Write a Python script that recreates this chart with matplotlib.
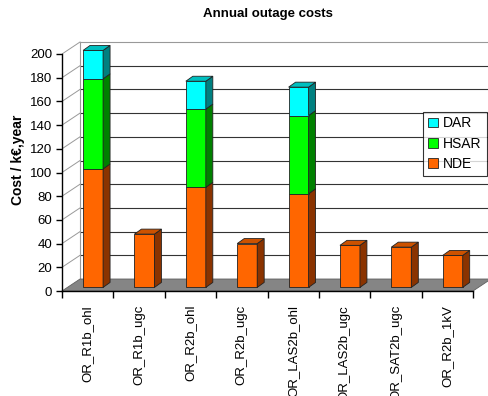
import matplotlib
matplotlib.use("Agg")
import matplotlib.pyplot as plt
from matplotlib.patches import Polygon, Patch
import numpy as np

plt.rcParams['font.family'] = ['Liberation Sans', 'DejaVu Sans']

categories = ["OR_R1b_ohl", "OR_R1b_ugc", "OR_R2b_ohl", "OR_R2b_ugc",
              "OR_LAS2b_ohl", "OR_LAS2b_ugc", "OR_SAT2b_ugc", "OR_R2b_1kV"]
nde = [100, 45, 84.5, 37, 79, 35.5, 34, 27]
hsar = [76, 0, 66, 0, 66, 0, 0, 0]
dar = [24, 0, 23.5, 0, 24, 0, 0, 0]
series_names = ["NDE", "HSAR", "DAR"]
yticks = list(range(0, 201, 20))

front_cols = {"NDE": "#FF6600", "HSAR": "#00FF00", "DAR": "#00FFFF"}
side_cols = {"NDE": "#8A3300", "HSAR": "#008000", "DAR": "#008080"}
top_cols = {"NDE": "#CC5200", "HSAR": "#00CC00", "DAR": "#00BFBF"}

W, H = 488, 396
fig = plt.figure(figsize=(W / 100, H / 100), dpi=100)
px_x = 51.375   # px per category
px_y = 1.185    # px per value unit
x0px, y0px = 62, 291
xmax, ymax = 8.6, 215
ax = fig.add_axes([x0px / W, (H - y0px) / H, xmax * px_x / W, ymax * px_y / H])
ax.set_xlim(0, xmax)
ax.set_ylim(0, ymax)
for s in ["top", "right"]:
    ax.spines[s].set_visible(False)
ax.spines["left"].set_bounds(0, 200)
ax.spines["bottom"].set_bounds(0, 8)
ax.spines["left"].set_linewidth(1.0)
ax.spines["bottom"].set_linewidth(1.0)

n = len(categories)
dx, dy = 0.35, 10.1          # depth of the 3D box
f0 = 0.3                     # bar front depth fraction
bw = 0.389                   # bar width
bdx, bdy = 0.136, 4.2        # bar depth

# floor
ax.add_patch(Polygon([(0, 0), (n, 0), (n + dx, dy), (dx, dy)], closed=True,
                     facecolor="#858585", edgecolor="#606060", lw=0.6, zorder=1,
                     clip_on=False))
# back wall gridlines and side wall lines
for v in yticks:
    col = "#333333" if 0 < v < 200 else "#999999"
    ax.plot([dx, n + dx + 0.3], [v + dy, v + dy], color=col, lw=0.8, zorder=0.5,
            clip_on=False)
    if v > 0:
        ax.plot([0, dx], [v, v + dy], color="#999999", lw=0.7, zorder=0.5)
ax.plot([dx, dx], [dy, 200 + dy], color="#999999", lw=0.8, zorder=0.5)

# bars
stack = {"NDE": nde, "HSAR": hsar, "DAR": dar}
yoff = f0 * dy
for i in range(n):
    xl = i + 0.5 - bw / 2 + f0 * dx
    xr = xl + bw
    base = 0.0
    segs = [(nm, stack[nm][i]) for nm in series_names if stack[nm][i] > 0]
    for k, (nm, val) in enumerate(segs):
        b = base + yoff
        t = base + val + yoff
        ax.add_patch(Polygon([(xl, b), (xr, b), (xr, t), (xl, t)], closed=True,
                             facecolor=front_cols[nm], edgecolor="#222222", lw=0.6, zorder=3))
        ax.add_patch(Polygon([(xr, b), (xr + bdx, b + bdy), (xr + bdx, t + bdy), (xr, t)],
                             closed=True, facecolor=side_cols[nm], edgecolor="#222222",
                             lw=0.6, zorder=3))
        if k == len(segs) - 1:
            ax.add_patch(Polygon([(xl, t), (xr, t), (xr + bdx, t + bdy), (xl + bdx, t + bdy)],
                                 closed=True, facecolor=top_cols[nm], edgecolor="#222222",
                                 lw=0.6, zorder=3))
        base += val

# axes ticks
ax.set_yticks(yticks)
ax.set_yticklabels([str(v) for v in yticks], fontsize=9.5)
ax.tick_params(axis="y", direction="out", length=4, width=1, pad=3)
ax.set_xticks(range(0, n + 1))
ax.set_xticklabels([""] * (n + 1))
ax.set_xticks(np.arange(n) + 0.5, minor=True)
ax.set_xticklabels(categories, minor=True, rotation=90, fontsize=9.5)
ax.tick_params(axis="x", which="major", direction="out", length=5, width=1)
ax.tick_params(axis="x", which="minor", length=0, pad=10)

fig.text(268 / W, 1 - 14 / H, "Annual outage costs", ha="center", va="center",
         fontsize=9.5, fontweight="bold")
fig.text(18 / W, 1 - 160 / H, "Cost / k\u20ac,year", ha="center", va="center",
         rotation=90, fontsize=10, fontweight="bold")

handles = [Patch(facecolor=front_cols[nm], edgecolor="#222222", lw=0.6)
           for nm in ["DAR", "HSAR", "NDE"]]
leg = fig.legend(handles, ["DAR", "HSAR", "NDE"], loc="upper left",
                 bbox_to_anchor=(423 / W, 1 - 111.5 / H), fontsize=10,
                 frameon=True, fancybox=False, edgecolor="#000000",
                 handlelength=0.7, handleheight=0.7, handletextpad=0.4,
                 labelspacing=0.45, borderpad=0.35, borderaxespad=0)
leg.get_frame().set_linewidth(0.8)
leg.set_zorder(10)

fig.savefig("out.png", dpi=100)
